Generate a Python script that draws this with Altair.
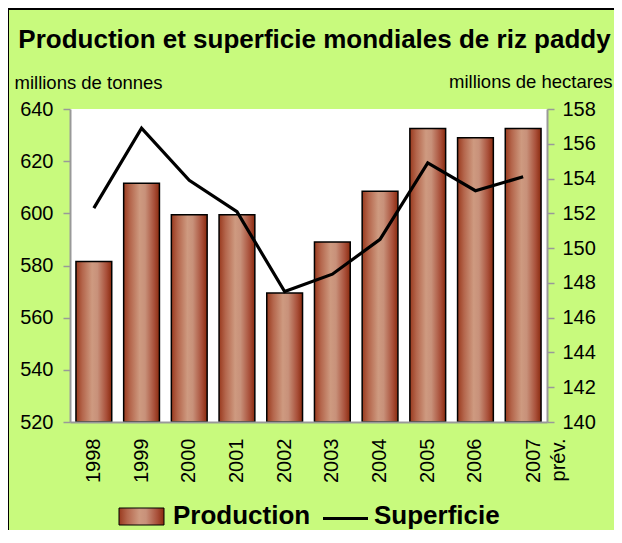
import altair as alt
import pandas as pd

years = ["1998", "1999", "2000", "2001", "2002", "2003", "2004", "2005", "2006", "2007"]
production = [581.5, 611.5, 599.5, 599.5, 569.5, 589.0, 608.5, 632.5, 629.0, 632.5]
superficie = [152.3, 156.9, 153.9, 152.1, 147.5, 148.5, 150.5, 154.9, 153.3, 154.1]

title_text = "Production et superficie mondiales de riz paddy"
left_title = "millions de tonnes"
right_title = "millions de hectares"
legend_labels = ["Production", "Superficie"]

df = pd.DataFrame({"annee": years, "production": production, "superficie": superficie})

FONT = "Liberation Sans"
GREEN = "#C8FA7D"
W, H = 477, 313
PAD_TOP = 101

bar_grad = alt.Gradient(
    gradient="linear",
    x1=0, x2=1, y1=0, y2=0,
    stops=[
        alt.GradientStop(offset=0, color="#993A1E"),
        alt.GradientStop(offset=0.18, color="#B4664C"),
        alt.GradientStop(offset=0.45, color="#CE9A80"),
        alt.GradientStop(offset=0.6, color="#C8917A"),
        alt.GradientStop(offset=0.85, color="#A9503A"),
        alt.GradientStop(offset=1, color="#8A2A0E"),
    ],
)

one = alt.Data(values=[{}])

frame = alt.Chart(one).mark_rect(fill=GREEN, stroke="black", strokeWidth=2).encode(
    x=alt.value(-62), x2=alt.value(620), y=alt.value(-100), y2=alt.value(520)
)
plot_bg = alt.Chart(one).mark_rect(fill="white").encode(
    x=alt.value(0), x2=alt.value("width"), y=alt.value(0), y2=alt.value("height")
)
title_mark = alt.Chart(one).mark_text(
    align="center", baseline="alphabetic", fontSize=26, fontWeight="bold", font=FONT, color="black"
).encode(x=alt.value(W / 2 + 6), y=alt.value(-61), text=alt.value(title_text))

x_enc = alt.X(
    "annee:N",
    sort=years,
    scale=alt.Scale(paddingInner=0.25, paddingOuter=0.125),
    axis=alt.Axis(
        title=None,
        labelAngle=270,
        labelFontSize=20,
        labelFont=FONT,
        labelColor="black",
        ticks=False,
        tickSize=0,
        labelPadding=16,
        domainColor="#999999",
        domainWidth=2,
        labelExpr="datum.value == '2007' ? ['2007', 'prév.'] : datum.value",
        labelLineHeight=25,
        labelOffset={"condition": {"test": "datum.value == '2007'", "value": 11}, "value": 0},
        zindex=1,
    ),
)

bars = alt.Chart(df).mark_bar(fill=bar_grad, stroke="black", strokeWidth=1.5).encode(
    x=x_enc,
    y=alt.Y(
        "production:Q",
        scale=alt.Scale(domain=[520, 640], nice=False, zero=False),
        axis=alt.Axis(
            orient="left",
            values=list(range(520, 641, 20)),
            grid=False,
            labelFontSize=20,
            labelFont=FONT,
            labelColor="black",
            labelPadding=10,
            tickSize=7,
            tickColor="#999999",
            tickWidth=1.5,
            domainColor="#999999",
            domainWidth=2,
            title=left_title,
            titleAngle=0,
            titleAlign="left",
            titleBaseline="alphabetic",
            titleX=-56,
            titleY=-21,
            titleFontSize=18.5,
            titleFontWeight="normal",
            titleFont=FONT,
            titleColor="black",
            zindex=1,
        ),
    ),
    y2=alt.datum(520),
)

line = alt.Chart(df).mark_line(color="black", strokeWidth=3.2).encode(
    x=alt.X("annee:N", sort=years),
    y=alt.Y(
        "superficie:Q",
        scale=alt.Scale(domain=[140, 158], nice=False, zero=False),
        axis=alt.Axis(
            orient="right",
            values=list(range(140, 159, 2)),
            grid=False,
            labelFontSize=20,
            labelFont=FONT,
            labelColor="black",
            labelPadding=8,
            tickSize=7,
            tickColor="#999999",
            tickWidth=1.5,
            domainColor="#999999",
            domainWidth=2,
            title=right_title,
            titleAngle=0,
            titleAlign="right",
            titleBaseline="alphabetic",
            titleX=65,
            titleY=-22,
            titleFontSize=18.5,
            titleFontWeight="normal",
            titleFont=FONT,
            titleColor="black",
            zindex=1,
        ),
    ),
)

leg_swatch = alt.Chart(one).mark_rect(fill=bar_grad, stroke="black", strokeWidth=1).encode(
    x=alt.value(49), x2=alt.value(94), y=alt.value(399), y2=alt.value(416)
)
leg_text1 = alt.Chart(one).mark_text(
    align="left", baseline="alphabetic", fontSize=26, fontWeight="bold", font=FONT, color="black"
).encode(x=alt.value(103), y=alt.value(415), text=alt.value(legend_labels[0]))
leg_line = alt.Chart(one).mark_rule(color="black", strokeWidth=3).encode(
    x=alt.value(253), x2=alt.value(298), y=alt.value(409.5)
)
leg_text2 = alt.Chart(one).mark_text(
    align="left", baseline="alphabetic", fontSize=26, fontWeight="bold", font=FONT, color="black"
).encode(x=alt.value(304), y=alt.value(415), text=alt.value(legend_labels[1]))

chart = (
    alt.layer(frame, plot_bg, title_mark, bars, line, leg_swatch, leg_text1, leg_line, leg_text2)
    .resolve_scale(y="independent")
    .properties(
        width=W,
        height=H,
        autosize=alt.AutoSizeParams(type="none"),
        padding={"left": 62, "top": PAD_TOP, "right": 606 - 62 - W, "bottom": 522 - PAD_TOP - H},
        background="white",
    )
    .configure_view(stroke=None)
)

chart.save("out.html", embed_options={"renderer": "svg", "actions": False})
